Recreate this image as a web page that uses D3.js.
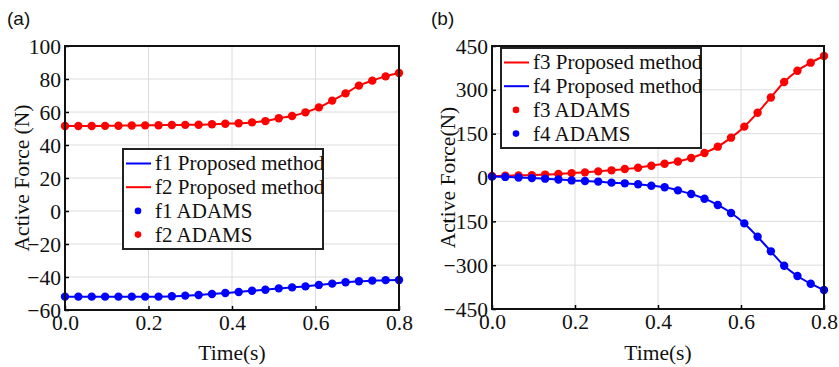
<!DOCTYPE html>
<html><head><meta charset="utf-8">
<script src="https://cdn.jsdelivr.net/npm/d3@7"></script>
<style>body{margin:0;background:#fff}svg{display:block}</style>
</head><body>
<svg id="c" width="839" height="367"></svg>
<script>
const times = [0,0.032,0.064,0.096,0.128,0.16,0.192,0.224,0.256,0.288,0.32,0.352,0.384,0.416,0.448,0.48,0.512,0.544,0.576,0.608,0.64,0.672,0.704,0.736,0.768,0.8];
const f1 = [-51.9,-51.9,-51.9,-51.9,-51.9,-51.9,-51.9,-51.9,-51.7,-51.3,-50.9,-50.3,-49.7,-49.1,-48.3,-47.7,-46.9,-46.3,-45.7,-44.8,-44.0,-43.2,-42.6,-42.2,-41.9,-41.8];
const f2 = [51.5,51.5,51.5,51.6,51.7,51.8,51.9,52.0,52.1,52.2,52.3,52.6,52.9,53.2,53.7,54.5,56.2,57.6,59.8,62.8,66.9,71.3,76.0,79.0,81.6,83.6];
const f3 = [5,6,7,8,10,12,15,17.6,21,24.5,29,33.6,40.4,47.3,55,66.7,83.8,105.5,136.3,174,221.7,274,326.8,365.5,393,415.8];
const f4 = [3,2,0,-2,-4,-7,-10,-12,-14,-17.6,-20,-23,-28,-33.6,-44,-56.5,-72.5,-94,-121.6,-157,-202.7,-252.7,-302,-337,-363.4,-385];
const xTicks = [0,0.2,0.4,0.6,0.8];
const yTicksA = [-60,-40,-20,0,20,40,60,80,100];
const yTicksB = [-450,-300,-150,0,150,300,450];

const RED = "#ff0000", BLUE = "#0000ff";
const SERIF = '"Liberation Serif"', SANS = '"Liberation Sans"';
const svg = d3.select("#c");

function txt(sel, fam, size){
  return sel.style("font-family", fam).style("font-size", size + "px").attr("fill", "#111");
}

function panel(o){
  const g = svg.append("g");
  const x = d3.scaleLinear().domain([0,0.8]).range([o.x0,o.x1]);
  const y = d3.scaleLinear().domain(o.yDom).range([o.y1,o.y0]);
  g.selectAll(".gx").data(xTicks).join("line")
    .attr("x1",d=>x(d)).attr("x2",d=>x(d)).attr("y1",o.y0).attr("y2",o.y1)
    .attr("stroke","#dcdcdc").attr("stroke-width",1);
  g.selectAll(".gy").data(o.yTicks).join("line")
    .attr("y1",d=>y(d)).attr("y2",d=>y(d)).attr("x1",o.x0).attr("x2",o.x1)
    .attr("stroke","#dcdcdc").attr("stroke-width",1);
  const xa = g.append("g").attr("transform",`translate(0,${o.y1})`)
    .call(d3.axisBottom(x).tickValues(xTicks).tickFormat(d3.format(".1f")).tickSizeInner(-4).tickSizeOuter(0).tickPadding(7));
  const ya = g.append("g").attr("transform",`translate(${o.x0},0)`)
    .call(d3.axisLeft(y).tickValues(o.yTicks).tickSizeInner(-4).tickSizeOuter(0).tickPadding(4));
  [xa,ya].forEach(a=>{
    a.select(".domain").remove();
    a.selectAll("line").attr("stroke","#000").attr("stroke-width",1.5);
    txt(a.selectAll("text"), SERIF, 21.5);
  });
  xa.selectAll("text").attr("dy","0.62em");
  ya.selectAll("text").attr("dy","0.33em");
  const line = d3.line().x((d,i)=>x(times[i])).y(d=>y(d)).curve(d3.curveMonotoneX);
  o.series.forEach(s=>{
    g.append("path").attr("d",line(s.v)).attr("fill","none").attr("stroke",s.c).attr("stroke-width",2);
  });
  o.series.forEach(s=>{
    g.selectAll(null).data(s.v).join("circle")
      .attr("cx",(d,i)=>x(times[i])).attr("cy",d=>y(d)).attr("r",4.2).attr("fill",s.c);
  });
  g.append("rect").attr("x",o.x0).attr("y",o.y0).attr("width",o.x1-o.x0).attr("height",o.y1-o.y0)
    .attr("fill","none").attr("stroke","#111").attr("stroke-width",2);
  const L = o.legend;
  const lg = g.append("g");
  lg.append("rect").attr("x",L.x).attr("y",L.y).attr("width",L.w).attr("height",L.h)
    .attr("fill","#fff").attr("stroke","#222").attr("stroke-width",2);
  L.items.forEach((it,i)=>{
    const cy = L.y + 14.5 + i*23.7;
    if(it.t==="line"){
      lg.append("line").attr("x1",L.x+3).attr("x2",L.x+28).attr("y1",cy).attr("y2",cy)
        .attr("stroke",it.c).attr("stroke-width",2);
    } else {
      lg.append("circle").attr("cx",L.x+15).attr("cy",cy).attr("r",3.3).attr("fill",it.c);
    }
    txt(lg.append("text").attr("x",L.x+32).attr("y",cy).attr("dy","0.33em"), SERIF, 21).text(it.label);
  });
  txt(g.append("text").attr("x",(o.x0+o.x1)/2).attr("y",352).attr("dy","0.35em").attr("text-anchor","middle"), SERIF, 21.5).text("Time(s)");
  txt(g.append("text").attr("transform",`translate(${o.ylx},${(o.y0+o.y1)/2}) rotate(-90)`)
    .attr("dy","0.35em").attr("text-anchor","middle"), SERIF, 21.5).text(o.ylabel);
  txt(g.append("text").attr("x",o.tagX).attr("y",18).attr("dy","0.35em"), SANS, 19).text(o.tag);
}

panel({x0:65,x1:399,y0:46,y1:310,yDom:[-60,100],yTicks:yTicksA,ylx:21,ylabel:"Active Force (N)",tag:"(a)",tagX:7,
  series:[{v:f1,c:BLUE},{v:f2,c:RED}],
  legend:{x:123,y:149,w:200,h:100,items:[
    {t:"line",c:BLUE,label:"f1 Proposed method"},
    {t:"line",c:RED,label:"f2 Proposed method"},
    {t:"dot",c:BLUE,label:"f1 ADAMS"},
    {t:"dot",c:RED,label:"f2 ADAMS"}]}});
panel({x0:492,x1:824,y0:46,y1:309,yDom:[-450,450],yTicks:yTicksB,ylx:447,ylabel:"Active Force(N)",tag:"(b)",tagX:431,
  series:[{v:f3,c:RED},{v:f4,c:BLUE}],
  legend:{x:501,y:48,w:200,h:100,items:[
    {t:"line",c:RED,label:"f3 Proposed method"},
    {t:"line",c:BLUE,label:"f4 Proposed method"},
    {t:"dot",c:RED,label:"f3 ADAMS"},
    {t:"dot",c:BLUE,label:"f4 ADAMS"}]}});
</script>
</body></html>
